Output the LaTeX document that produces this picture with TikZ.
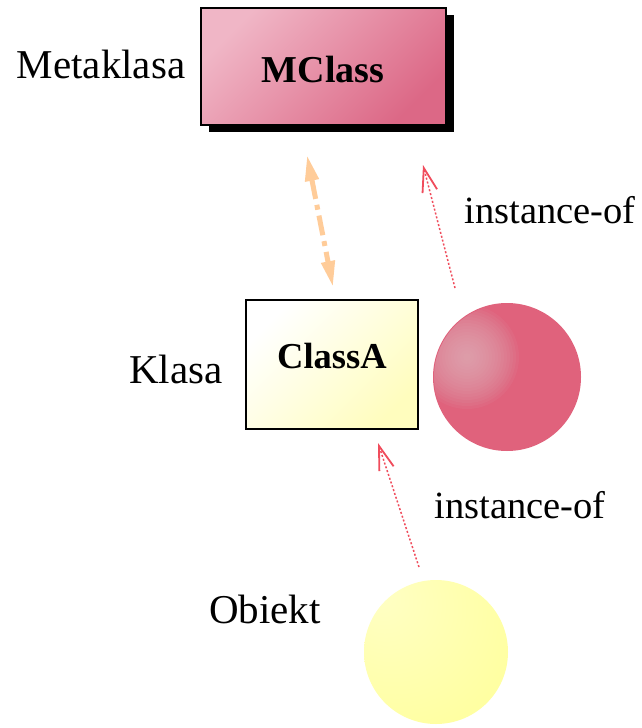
\documentclass[tikz,border=0pt]{standalone}
\usepackage{fontspec}
\setmainfont{Liberation Serif}
\usetikzlibrary{arrows.meta,shadows}

\definecolor{mclassLight}{HTML}{F0B6C6}
\definecolor{mclassDark}{HTML}{DC6886}
\definecolor{classLight}{HTML}{FFFFFF}
\definecolor{classDark}{HTML}{FFFDBE}
\definecolor{ballHigh}{HTML}{DDB6BE}
\definecolor{ballBase}{HTML}{E0627C}
\definecolor{objHigh}{HTML}{FFFFC4}
\definecolor{objBase}{HTML}{FFFFA2}
\definecolor{peach}{HTML}{FFCC99}
\definecolor{instRed}{HTML}{F04C5C}

% soft yellow object sphere
\pgfdeclareradialshading{yelball}{\pgfpoint{-20bp}{20bp}}{%
  color(0bp)=(objHigh); color(40bp)=(objBase); color(100bp)=(objBase)}

\tikzset{
  lbl/.style={font=\fontsize{41}{48}\selectfont, inner sep=0pt},
  instlbl/.style={font=\fontsize{38.5}{46}\selectfont, inner sep=0pt},
  boldlbl/.style={font=\fontsize{36.5}{44}\selectfont\bfseries, inner sep=0pt},
  metabox/.style={draw=black, line width=2pt, rectangle, inner sep=0pt,
    shading=axis, top color=mclassLight, bottom color=mclassDark, shading angle=45,
    general shadow={fill=black, shadow xshift=8pt, shadow yshift=-7pt}},
  classbox/.style={draw=black, line width=2pt, rectangle, inner sep=0pt,
    shading=axis, top color=classLight, bottom color=classDark, shading angle=45},
  ballnode/.style={circle, inner sep=0pt},
  metalink/.style={draw=peach, line width=5pt, dash pattern=on 20pt off 6pt on 5pt off 6pt,
    {Triangle[length=26pt,width=13pt]}-{Triangle[length=26pt,width=13pt]}},
  instlink/.style={draw=instRed, line width=1.5pt, dash pattern=on 2pt off 2pt,
    -{Straight Barb[length=24pt,width=15pt,line width=1.8pt]}}
}

\begin{document}
\begin{tikzpicture}[x=1pt,y=-1pt]
\useasboundingbox[fill=white] (0,0) rectangle (641,728);

% metaclass box
\node[metabox, minimum width=245pt, minimum height=117pt] (mclass) at (323.5,66.5) {};
\node[boldlbl, font=\fontsize{38}{44}\selectfont\bfseries, anchor=base] (mclasstxt) at (323,82) {MClass};
\node[lbl, anchor=base] (metaklasa) at (101,78) {Metaklasa};

% class box
\node[classbox, minimum width=172pt, minimum height=129pt] (classa) at (332,364.5) {};
\node[boldlbl, anchor=base] (classatxt) at (332,368) {ClassA};
\node[lbl, anchor=base] (klasa) at (176,383) {Klasa};

% pink sphere: flat body with a soft highlight at the upper left
\node[ballnode, minimum size=148pt, fill=ballBase] (mball) at (507,377) {};
\begin{scope}
  \clip (mball.center) circle (73);
  \foreach \r in {52,49,...,4}
    \fill[ballHigh, opacity=0.08] ([xshift=-40pt, yshift=20pt]mball.center) circle (\r);
\end{scope}

% yellow object sphere
\node[ballnode, minimum size=144pt, shading=yelball] (obj) at (436,652) {};
\node[lbl, anchor=base] (obiekt) at (265,623) {Obiekt};

% labels of the instance-of links
\node[instlbl, anchor=base] (inst1) at (550,223) {instance-of};
\node[instlbl, anchor=base] (inst2) at (520,518) {instance-of};

% link ends
\coordinate (mlinkTop) at (307,155);
\coordinate (mlinkBot) at (333,287);
\coordinate (i1from) at (455,288);
\coordinate (i1to) at (423,165);
\coordinate (i2from) at (419,567);
\coordinate (i2to) at (378,443);

% links
\draw[metalink] (mlinkTop) -- (mlinkBot);
\draw[instlink] (i1from) -- (i1to);
\draw[instlink] (i2from) -- (i2to);
\end{tikzpicture}
\end{document}
